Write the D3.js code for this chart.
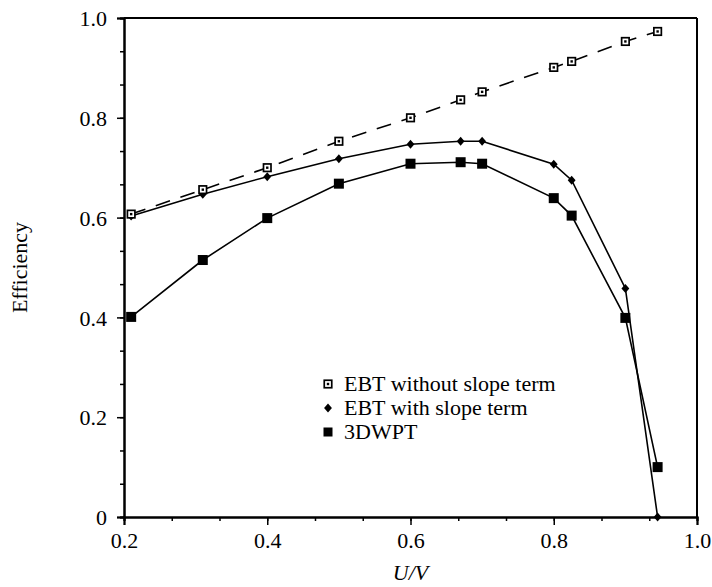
<!DOCTYPE html>
<html>
<head>
<meta charset="utf-8">
<script src="https://cdn.jsdelivr.net/npm/d3@7"></script>
<style>
  body { margin: 0; background: #fff; }
  text { font-family: "Liberation Serif", "Times New Roman", serif; fill: #000; }
</style>
</head>
<body>
<div id="chart"></div>
<script>
// efficiency vs U/V
let uv = [0.21, 0.31, 0.40, 0.50, 0.60, 0.67, 0.70, 0.80, 0.825, 0.90, 0.945];
let ebtNoSlope = [0.607, 0.656, 0.700, 0.753, 0.800, 0.836, 0.852, 0.901, 0.913, 0.953, 0.973];
let ebtSlope = [0.603, 0.647, 0.682, 0.718, 0.747, 0.753, 0.753, 0.707, 0.675, 0.458, 0.0];
let wpt3d = [0.401, 0.515, 0.599, 0.668, 0.708, 0.711, 0.708, 0.639, 0.604, 0.399, 0.100];

let xTicks = [0.2, 0.4, 0.6, 0.8, 1.0];
let yTicks = [0, 0.2, 0.4, 0.6, 0.8, 1.0];
let legendNames = ["EBT without slope term", "EBT with slope term", "3DWPT"];

let width = 712, height = 587;
let margin = {top: 18, right: 15, bottom: 70, left: 124};
let w = width - margin.left - margin.right,
    h = height - margin.top - margin.bottom;

let x = d3.scaleLinear().domain([0.2, 1.0]).range([0, w]);
let y = d3.scaleLinear().domain([0, 1.0]).range([h, 0]);

let svg = d3.select("#chart").append("svg")
    .attr("width", width)
    .attr("height", height);

let g = svg.append("g")
    .attr("transform", "translate(" + margin.left + "," + margin.top + ")");

// minor ticks, a third of a major step
let xMinor = d3.range(0, 13).map(i => 0.2 + i * 0.2 / 3);
let yMinor = d3.range(0, 16).map(i => i * 0.2 / 3);

let fmt = function (d) { return d === 0 ? "0" : d3.format(".1f")(d); };

g.append("g")
    .attr("transform", "translate(0," + h + ")")
    .call(d3.axisBottom(x).tickValues(xMinor).tickSize(4).tickFormat(""));
g.append("g")
    .attr("class", "xaxis")
    .attr("transform", "translate(0," + h + ")")
    .call(d3.axisBottom(x).tickValues(xTicks).tickSize(8).tickPadding(7).tickFormat(fmt));

g.append("g")
    .call(d3.axisLeft(y).tickValues(yMinor).tickSize(4).tickFormat(""));
g.append("g")
    .attr("class", "yaxis")
    .call(d3.axisLeft(y).tickValues(yTicks).tickSize(7).tickPadding(10).tickFormat(fmt));

g.selectAll("g").attr("font-family", "Liberation Serif, Times New Roman, serif");
g.selectAll(".domain").attr("stroke", "#000").attr("stroke-width", 2);
g.selectAll(".tick line").attr("stroke", "#000").attr("stroke-width", 1.5);
g.selectAll(".tick text").style("font-size", "22px").attr("fill", "#000");
g.selectAll(".yaxis .tick text").attr("dy", "0.35em");

// top and right of the frame
g.append("line").attr("x1", 0).attr("x2", w).attr("y1", 0).attr("y2", 0)
    .attr("stroke", "#000").attr("stroke-width", 2);
g.append("line").attr("x1", w).attr("x2", w).attr("y1", 0).attr("y2", h)
    .attr("stroke", "#000").attr("stroke-width", 2);

// axis titles
svg.append("text")
    .attr("x", margin.left + w / 2)
    .attr("y", 580)
    .attr("text-anchor", "middle")
    .style("font-size", "22px")
    .style("font-style", "italic")
    .text("U/V");

svg.append("text")
    .attr("transform", "translate(27," + (margin.top + h / 2) + ") rotate(-90)")
    .attr("text-anchor", "middle")
    .style("font-size", "22px")
    .text("Efficiency");

let line = d3.line()
    .x(function (d) { return x(d[0]); })
    .y(function (d) { return y(d[1]); });

let s1 = d3.zip(uv, ebtNoSlope);
let s2 = d3.zip(uv, ebtSlope);
let s3 = d3.zip(uv, wpt3d);

g.append("path").datum(s1).attr("d", line)
    .attr("fill", "none").attr("stroke", "#000").attr("stroke-width", 1.6)
    .attr("stroke-dasharray", "15,11");
g.append("path").datum(s2).attr("d", line)
    .attr("fill", "none").attr("stroke", "#000").attr("stroke-width", 1.6);
g.append("path").datum(s3).attr("d", line)
    .attr("fill", "none").attr("stroke", "#000").attr("stroke-width", 1.6);

// marker drawing helpers
function openSquare(sel, size) {
    sel.append("rect")
        .attr("x", -size / 2).attr("y", -size / 2)
        .attr("width", size).attr("height", size)
        .attr("fill", "#fff").attr("stroke", "#000").attr("stroke-width", 1.7);
    sel.append("rect")
        .attr("x", -1.2).attr("y", -1.2).attr("width", 2.4).attr("height", 2.4)
        .attr("fill", "#000");
}
function diamond(sel, size) {
    sel.append("path")
        .attr("d", "M0," + (-size / 2) + "L" + (size / 2.3) + ",0L0," + (size / 2) + "L" + (-size / 2.3) + ",0Z")
        .attr("fill", "#000");
}
function filledSquare(sel, size) {
    sel.append("rect")
        .attr("x", -size / 2).attr("y", -size / 2)
        .attr("width", size).attr("height", size)
        .attr("fill", "#000");
}

g.selectAll(".m3").data(s3).enter().append("g")
    .attr("transform", function (d) { return "translate(" + x(d[0]) + "," + y(d[1]) + ")"; })
    .each(function () { filledSquare(d3.select(this), 10); });
g.selectAll(".m2").data(s2).enter().append("g")
    .attr("transform", function (d) { return "translate(" + x(d[0]) + "," + y(d[1]) + ")"; })
    .each(function () { diamond(d3.select(this), 9); });
g.selectAll(".m1").data(s1).enter().append("g")
    .attr("transform", function (d) { return "translate(" + x(d[0]) + "," + y(d[1]) + ")"; })
    .each(function () { openSquare(d3.select(this), 7.5); });

// legend
let legend = svg.append("g").attr("transform", "translate(328,384)");
let drawers = [
    function (s) { openSquare(s, 7.5); },
    function (s) { diamond(s, 9); },
    function (s) { filledSquare(s, 9); }
];
legendNames.forEach(function (name, i) {
    let row = legend.append("g").attr("transform", "translate(0," + (i * 24) + ")");
    drawers[i](row);
    row.append("text")
        .attr("x", 16)
        .attr("y", 7)
        .style("font-size", "22px")
        .text(name);
});
</script>
</body>
</html>
